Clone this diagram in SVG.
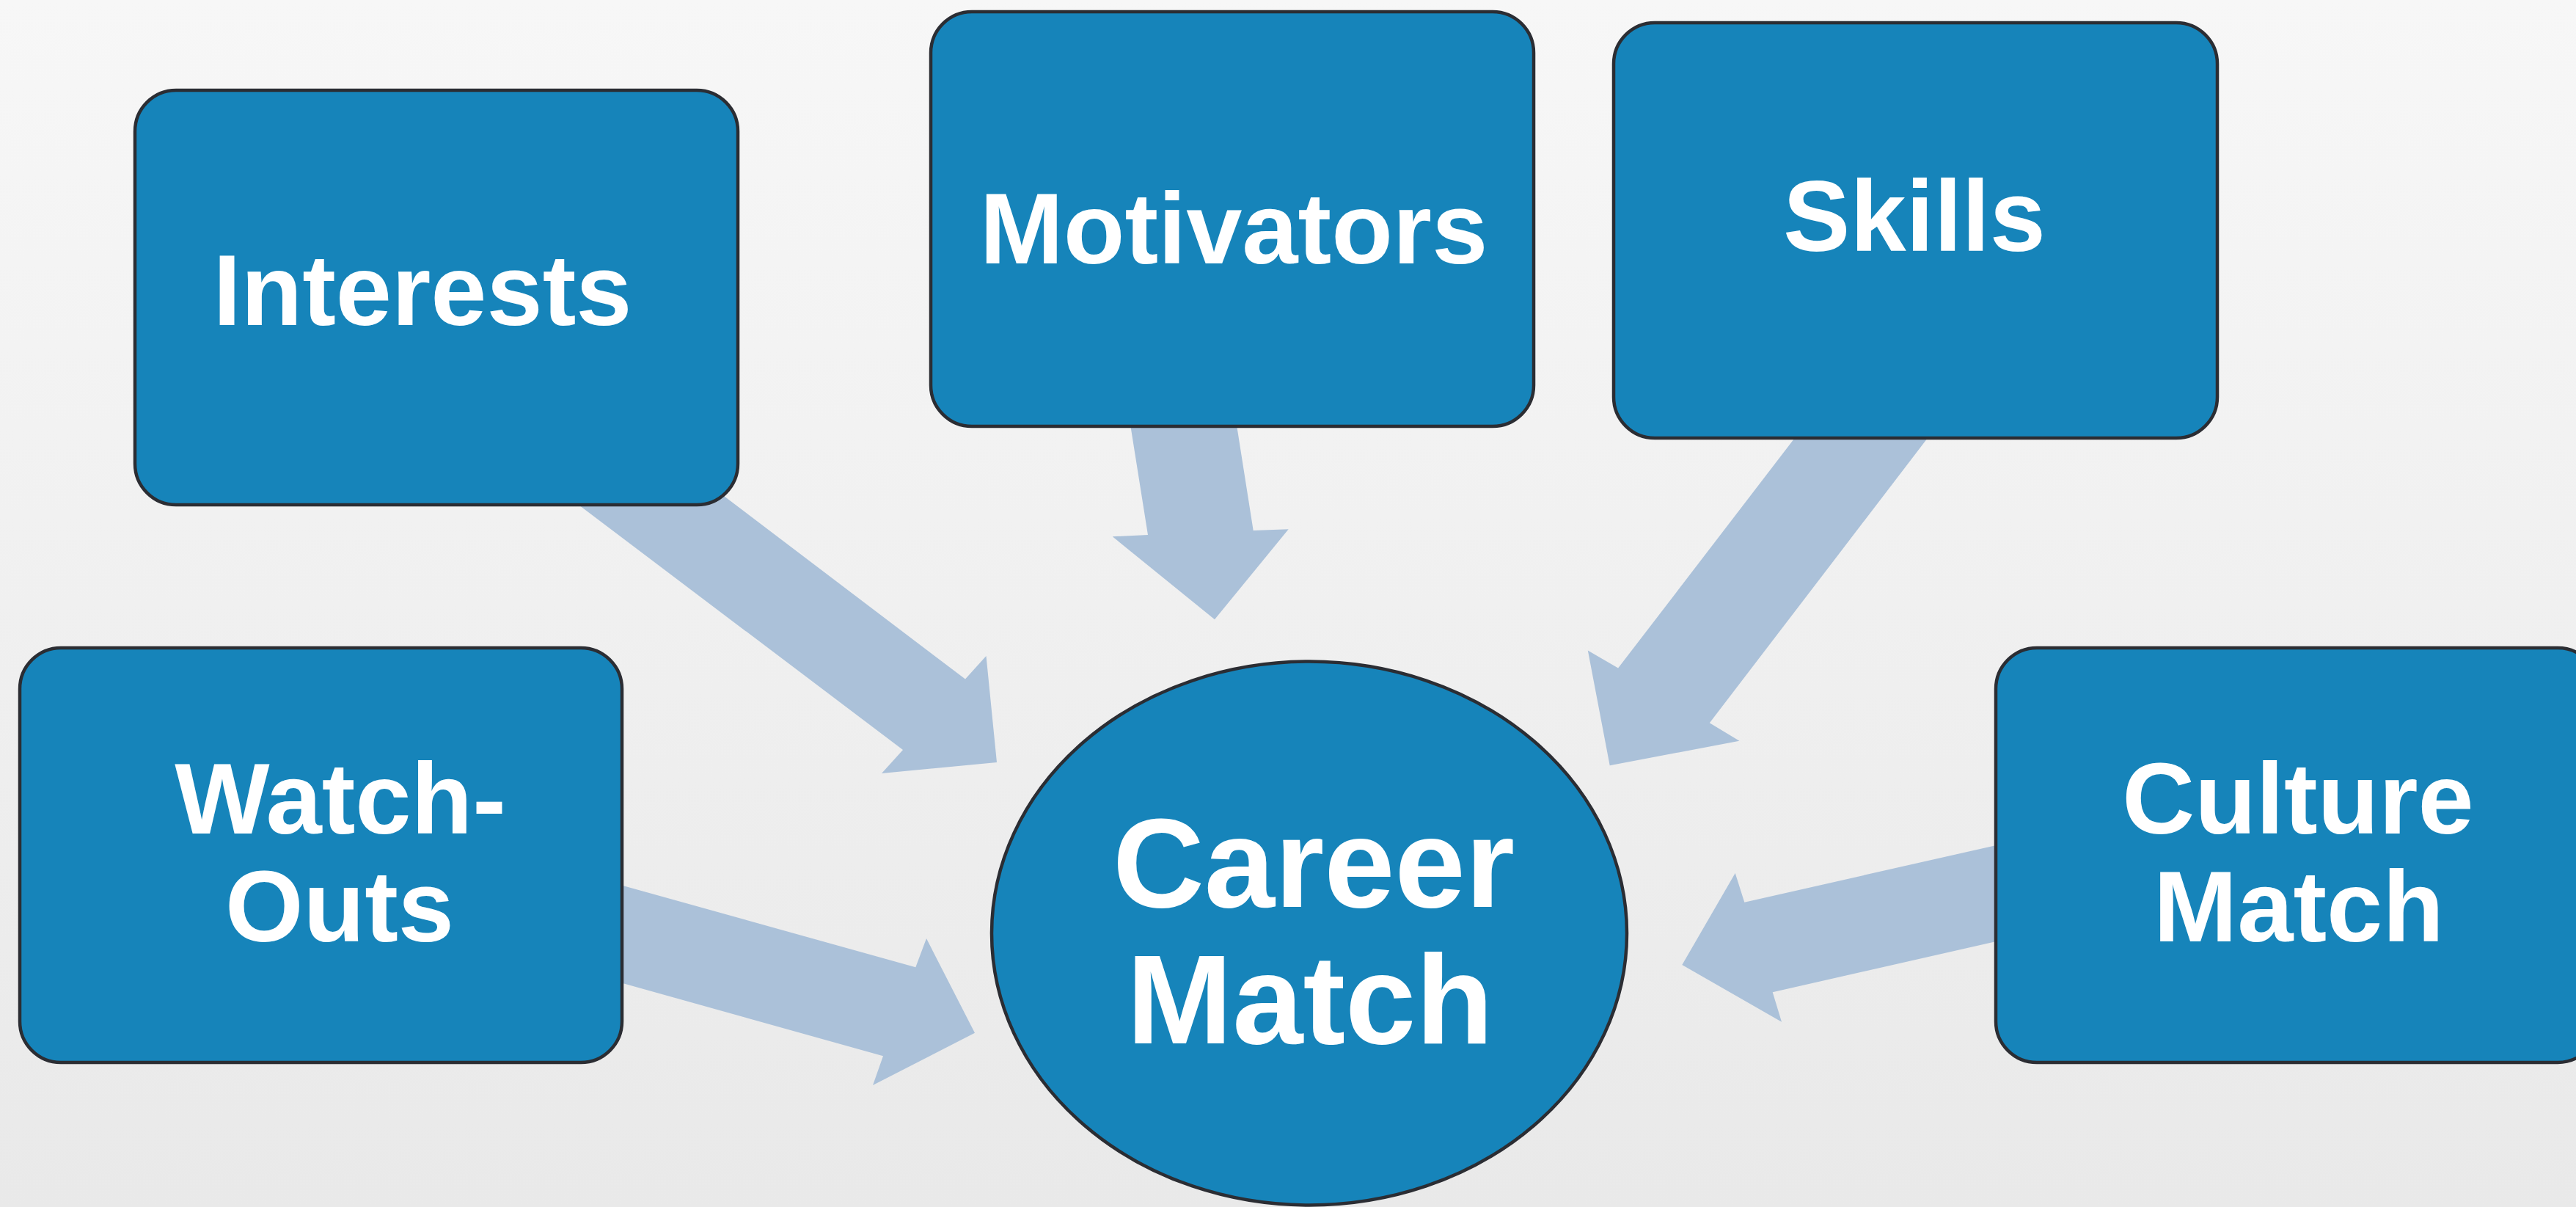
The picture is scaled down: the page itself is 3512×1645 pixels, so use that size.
<svg xmlns="http://www.w3.org/2000/svg" width="3512" height="1645" viewBox="0 0 3512 1645">
  <defs>
    <linearGradient id="bg" x1="0" y1="0" x2="0" y2="1">
      <stop offset="0" stop-color="#f7f7f7"/>
      <stop offset="1" stop-color="#e9e9e9"/>
    </linearGradient>
    <style>
      .box { fill: #1684ba; stroke: #2b2d33; stroke-width: 4.5; }
      .arrow { fill: #abc1d9; stroke: none; }
      .lbl { fill: #ffffff; font-family: "Liberation Sans", Arial, sans-serif; font-weight: bold; font-size: 137px; text-anchor: middle; }
      .big { font-size: 173px; }
    </style>
  </defs>
  <rect x="0" y="0" width="3512" height="1645" fill="url(#bg)"/>

  <g id="connectors">
    <polygon class="arrow" points="855,576 1316,925.5 1344.5,894 1359,1039 1202,1054 1231,1022 659,590"/>
    <polygon class="arrow" points="1528.5,500 1673.5,500 1708.7,723 1756.7,721.3 1656,844.3 1516.7,731.3 1565,729"/>
    <polygon class="arrow" points="2522,499 2703,499 2330.8,985.3 2371.4,1009.8 2194.7,1043.2 2164.8,886.5 2206.1,910.6"/>
    <polygon class="arrow" points="751.7,1179.8 1248.3,1318.3 1263,1279 1329,1407.7 1190,1479 1204,1439.3 751.7,1312.8"/>
    <polygon class="arrow" points="2820,1129.7 2378.3,1229.7 2365.7,1190 2293.3,1315 2429,1392.7 2416.7,1352.3 2820,1260.7"/>
  </g>

  <g id="interests">
    <rect class="box" x="184" y="123" width="822" height="565" rx="56" ry="56"/>
    <text class="lbl" x="576" y="443">Interests</text>
  </g>
  <g id="motivators">
    <rect class="box" x="1269" y="16" width="822" height="565" rx="56" ry="56"/>
    <text class="lbl" x="1682" y="359">Motivators</text>
  </g>
  <g id="skills">
    <rect class="box" x="2200" y="31" width="823" height="566" rx="56" ry="56"/>
    <text class="lbl" x="2610" y="342">Skills</text>
  </g>
  <g id="watch-outs">
    <rect class="box" x="27" y="883" width="821" height="565" rx="56" ry="56"/>
    <text class="lbl" x="464" y="1136">Watch-</text>
    <text class="lbl" x="463" y="1283">Outs</text>
  </g>
  <g id="culture-match">
    <rect class="box" x="2721" y="883" width="822" height="565" rx="56" ry="56"/>
    <text class="lbl" x="3133" y="1136">Culture</text>
    <text class="lbl" x="3134" y="1283">Match</text>
  </g>
  <g id="career-match">
    <ellipse class="box" cx="1785" cy="1272" rx="433" ry="370.5"/>
    <text class="lbl big" x="1791" y="1236">Career</text>
    <text class="lbl big" x="1786" y="1422">Match</text>
  </g>
</svg>
